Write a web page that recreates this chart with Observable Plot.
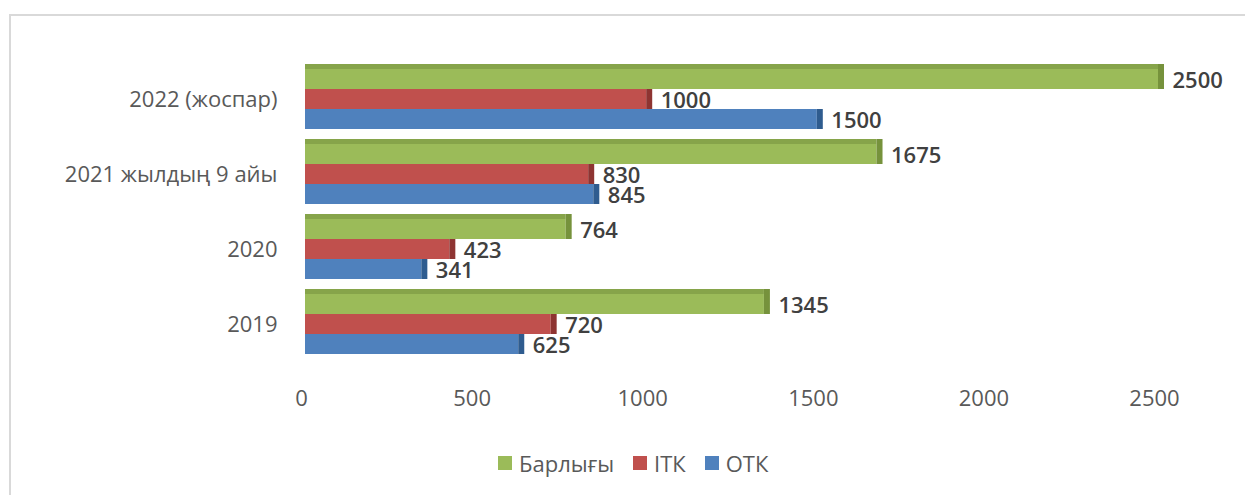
<!DOCTYPE html>
<html>
<head>
<meta charset="utf-8">
<script src="https://cdn.jsdelivr.net/npm/d3@7"></script>
<script src="https://cdn.jsdelivr.net/npm/@observablehq/plot@0.6"></script>
<style>
  html, body { margin: 0; padding: 0; background: #fff; }
  body { width: 1245px; height: 495px; position: relative; overflow: hidden; font-family: "Open Sans", sans-serif; }
  #frame { position: absolute; left: 9px; top: 14px; width: 1240px; height: 490px; border-left: 2px solid #d9d9d9; border-top: 2px solid #d9d9d9; box-sizing: border-box; }
  #chart { position: absolute; left: 0; top: 0; }
  #legend { position: absolute; left: 498px; top: 448px; display: flex; align-items: center; font-size: 22px; color: #595959; white-space: nowrap; }
  #legend .item { display: flex; align-items: center; margin-right: 19px; }
  #legend .sw { width: 14px; height: 14px; margin-right: 7px; }
</style>
</head>
<body>
<div id="frame"></div>
<div id="chart"></div>
<div id="legend"></div>
<script>
const categories = ["2022 (жоспар)", "2021 жылдың 9 айы", "2020", "2019"];
const seriesNames = ["Барлығы", "ІТК", "ОТК"];
const totalValues = [2500, 1675, 764, 1345];
const itkValues = [1000, 830, 423, 720];
const otkValues = [1500, 845, 341, 625];
const xTicks = [0, 500, 1000, 1500, 2000, 2500];
const colors = ["#9BBB59", "#C0504D", "#4F81BD"];
const sideColors = ["#76923C", "#8E3432", "#2F5C8F"];
const topColor = "#86A44A";

const seriesValues = [totalValues, itkValues, otkValues];
const data = categories.flatMap((c, i) =>
  seriesNames.map((s, k) => ({category: c, series: s, value: seriesValues[k][i]}))
);

const chart = Plot.plot({
  width: 1245,
  height: 430,
  marginLeft: 305,
  marginRight: 87,
  marginTop: 60,
  marginBottom: 67,
  style: {fontFamily: "'Open Sans', sans-serif", fontSize: "22px", color: "#595959", background: "transparent", overflow: "visible"},
  x: {domain: [0, 2500]},
  y: {domain: seriesNames, padding: 0, axis: null},
  fy: {domain: categories, paddingInner: 0.2, paddingOuter: 0.1},
  color: {domain: seriesNames, range: colors},
  marks: [
    Plot.axisX({ticks: xTicks, tickSize: 0, tickPadding: 36, dx: -4, tickFormat: d => String(d), label: null, fontSize: 22}),
    Plot.axisFy({anchor: "left", tickSize: 0, tickPadding: 28, label: null, fontSize: 22}),
    Plot.barX(data, {fy: "category", y: "series", x: "value", fill: "series"}),
    Plot.barX(data.filter(d => d.series === seriesNames[0]), {fy: "category", y: "series", x1: 0, x2: "value", insetTop: -5, insetBottom: 20, fill: topColor}),
    ...seriesNames.map((s, k) =>
      Plot.barX(data.filter(d => d.series === s), {fy: "category", y: "series", x1: "value", x2: "value", insetRight: -6, insetTop: k === 0 ? -5 : 0, fill: sideColors[k]})
    ),
    Plot.text(data, {fy: "category", y: "series", x: "value", text: d => String(d.value), dx: 14, dy: 1, textAnchor: "start", fill: "#404040", fontWeight: 600, fontSize: 22})
  ]
});
document.getElementById("chart").appendChild(chart);

const legend = document.getElementById("legend");
seriesNames.forEach((s, k) => {
  const item = document.createElement("div");
  item.className = "item";
  const sw = document.createElement("span");
  sw.className = "sw";
  sw.style.background = colors[k];
  const label = document.createElement("span");
  label.textContent = s;
  item.appendChild(sw);
  item.appendChild(label);
  legend.appendChild(item);
});
</script>
</body>
</html>
